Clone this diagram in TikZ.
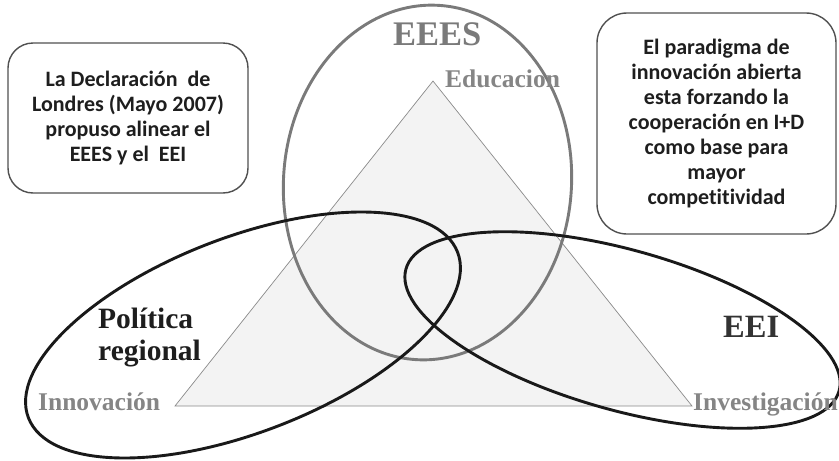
\documentclass[tikz,border=0pt]{standalone}
\usepackage{fontspec}
\setmainfont{Liberation Serif}
\newfontfamily\boxfont[Ligatures=NoCommon]{Carlito}
\newfontfamily\labfont{Liberation Serif}
\definecolor{trifill}{HTML}{F3F3F3}
\definecolor{triline}{HTML}{8A8A8A}
\definecolor{eesgray}{HTML}{7A7A7A}
\definecolor{boxline}{HTML}{505050}
\definecolor{labgray}{HTML}{858585}
\definecolor{darktext}{HTML}{1E1E1E}
\begin{document}
\begin{tikzpicture}[x=1pt,y=-1pt,
  infobox/.style={draw=boxline, line width=1.4pt, align=center,
    text=darktext, inner sep=0pt,
    font=\boxfont\bfseries\fontsize{22}{25}\selectfont},
  ring/.style={line width=2.9pt},
  graylab/.style={font=\labfont\bfseries\fontsize{25.5}{28}\selectfont,
    text=labgray, inner sep=0pt, anchor=base west},
  darklab/.style={font=\labfont\bfseries\fontsize{29.5}{32}\selectfont,
    text=darktext, inner sep=0pt, anchor=base west}]
\useasboundingbox (0,0) rectangle (839,461);

% central triangle
\coordinate (apex) at (433,81);
\coordinate (bl) at (175,406);
\coordinate (br) at (692,406);
\filldraw[fill=trifill, draw=triline, line width=0.7pt] (apex) -- (bl) -- (br) -- cycle;

% EEES ellipse
\draw[ring, draw=eesgray, shift={(427.5,182.5)}, rotate=-4]
  (0,0) ellipse [x radius=144pt, y radius=177.5pt];

% regional policy ellipse
\draw[ring, draw=black!90, shift={(243,335)}, rotate=21.1]
  (0,0) ellipse [x radius=230pt, y radius=97.5pt];

% EEI ellipse
\draw[ring, draw=black!90, shift={(622.5,330)}, rotate=-15.75]
  (0,0) ellipse [x radius=225pt, y radius=80pt];

% labels
\node[graylab, text=eesgray, font=\labfont\bfseries\fontsize{34.5}{36}\selectfont] (eees) at (393,45) {EEES};
\node[graylab] (educ) at (445,87) {Educacion};
\node[graylab] (innov) at (38,410) {Innovación};
\node[graylab] (invest) at (693,410) {Investigación};
\node[darklab] (pol) at (98,328) {Política};
\node[darklab] (reg) at (98,360) {regional};
\node[darklab, font=\labfont\bfseries\fontsize{32.5}{36}\selectfont, text=black!80] (eei) at (723,337) {EEI};

% text boxes
\node[infobox, rounded corners=25pt, minimum width=240pt, minimum height=150pt] (decl) at (128,118)
  {La Declaración~~de\\Londres (Mayo 2007)\\propuso alinear el\\EEES y el~~EEI};
\node[infobox, rounded corners=30pt, minimum width=239pt, minimum height=221pt] (parad) at (716.5,123.5)
  {El paradigma de\\innovación abierta\\esta forzando la\\cooperación en I+D\\como base para\\mayor\\competitividad};
\end{tikzpicture}
\end{document}
